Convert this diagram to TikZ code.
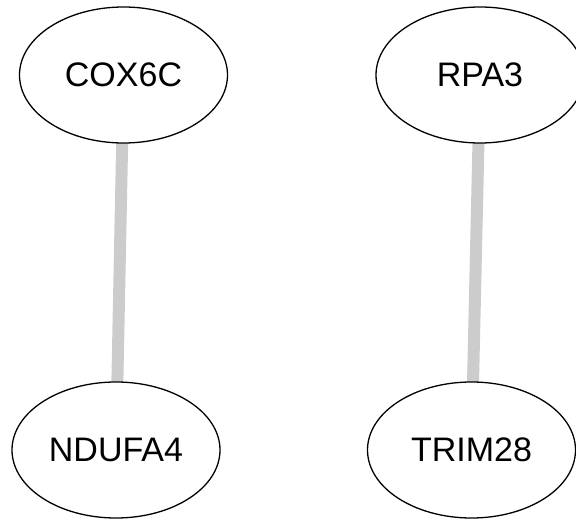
\documentclass[tikz,border=0pt]{standalone}
\usepackage{fontspec}
\setmainfont{Liberation Sans}
\usetikzlibrary{shapes.geometric,backgrounds}
\tikzset{
  gene/.style={ellipse, draw=black, line width=1.3pt, fill=white,
    minimum width=208pt, minimum height=136pt, inner sep=0pt,
    font=\fontsize{34}{34}\selectfont},
  link/.style={draw=black!20, line width=12pt, line cap=round}
}
\begin{document}
\begin{tikzpicture}[x=1pt, y=-1pt]
  \useasboundingbox (0,0) rectangle (576,521);
  \node[gene] (cox)  at (123.5,75)  {COX6C};
  \node[gene] (rpa)  at (480,75)    {RPA3};
  \node[gene] (nduf) at (116,450)   {NDUFA4};
  \node[gene] (trim) at (471.5,450) {TRIM28};
  \begin{scope}[on background layer]
    \draw[link] (cox) -- (nduf);
    \draw[link] (rpa) -- (trim);
  \end{scope}
\end{tikzpicture}
\end{document}
